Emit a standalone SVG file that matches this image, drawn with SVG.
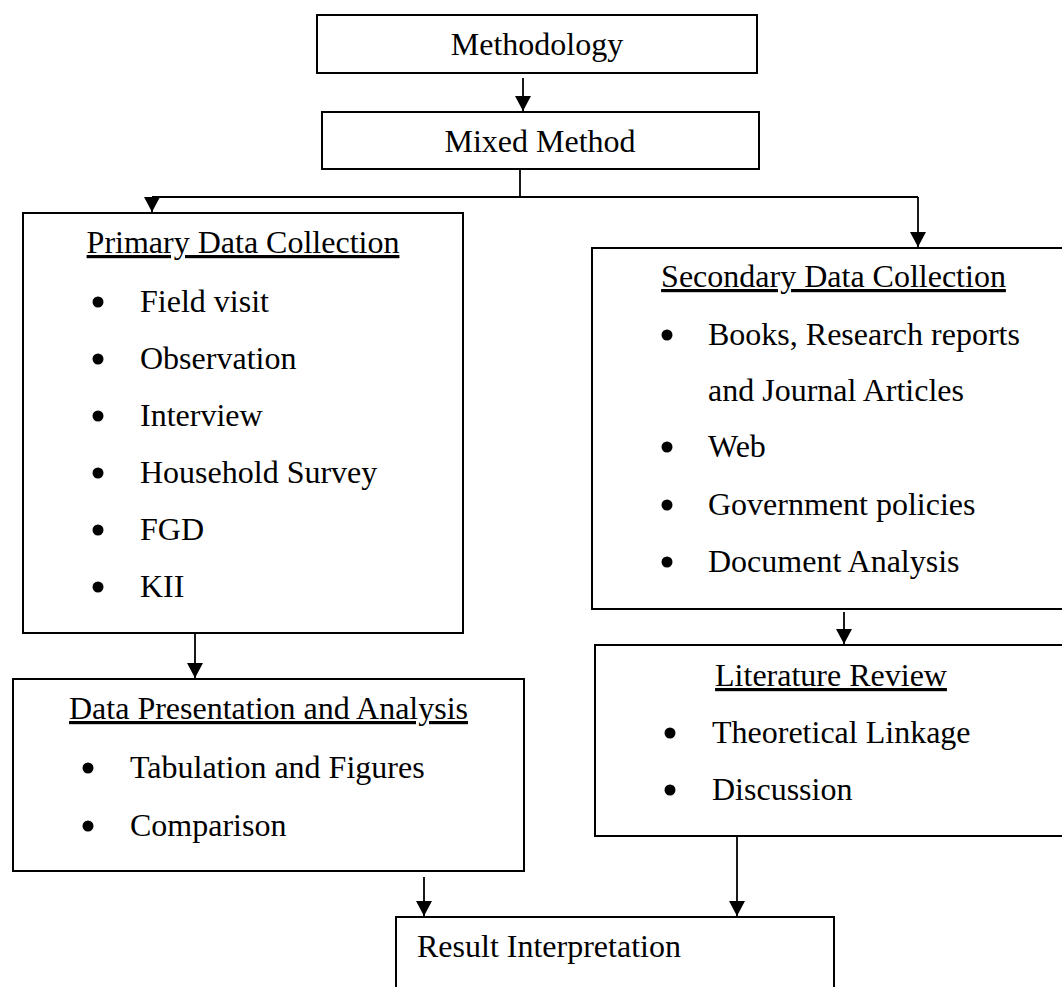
<svg xmlns="http://www.w3.org/2000/svg" width="1062" height="987" viewBox="0 0 1062 987">
<style>
.box{fill:#fff;stroke:#000;stroke-width:2}
.t{font-family:"Liberation Serif","Times New Roman",serif;font-size:32px;fill:#000}
.c{text-anchor:middle}
.u{text-decoration:underline}
.b{fill:#000}
.conn{fill:none;stroke:#000;stroke-width:1.8}
</style>
<defs>
<marker id="arr" markerUnits="userSpaceOnUse" markerWidth="16" markerHeight="16" refX="15" refY="8" orient="auto" viewBox="0 0 16 16">
<path d="M0,0 L15,8 L0,16 Z" fill="#000"/>
</marker>
</defs>
<rect width="1062" height="987" fill="#fff"/>
<g id="methodology">
<rect class="box" x="317" y="15" width="440" height="58"/>
<text class="t c" x="537" y="55">Methodology</text>
</g>
<g id="mixed-method">
<rect class="box" x="322" y="112" width="437" height="57"/>
<text class="t c" x="540" y="152">Mixed Method</text>
</g>
<g id="primary">
<rect class="box" x="23" y="213" width="440" height="420"/>
<text class="t c u" x="243" y="253">Primary Data Collection</text>
<circle class="b" cx="98" cy="302" r="5.5"/><text class="t" x="140" y="312">Field visit</text>
<circle class="b" cx="98" cy="359" r="5.5"/><text class="t" x="140" y="369">Observation</text>
<circle class="b" cx="98" cy="416" r="5.5"/><text class="t" x="140" y="426">Interview</text>
<circle class="b" cx="98" cy="473" r="5.5"/><text class="t" x="140" y="483">Household Survey</text>
<circle class="b" cx="98" cy="530" r="5.5"/><text class="t" x="140" y="540">FGD</text>
<circle class="b" cx="98" cy="587" r="5.5"/><text class="t" x="140" y="597">KII</text>
</g>
<g id="secondary">
<rect class="box" x="592" y="248" width="483" height="361"/>
<text class="t c u" x="833.5" y="287">Secondary Data Collection</text>
<circle class="b" cx="667" cy="335" r="5.5"/><text class="t" x="708" y="345">Books, Research reports</text>
<text class="t" x="708" y="401">and Journal Articles</text>
<circle class="b" cx="667" cy="447" r="5.5"/><text class="t" x="708" y="457">Web</text>
<circle class="b" cx="667" cy="505" r="5.5"/><text class="t" x="708" y="515">Government policies</text>
<circle class="b" cx="667" cy="562" r="5.5"/><text class="t" x="708" y="572">Document Analysis</text>
</g>
<g id="data-presentation">
<rect class="box" x="13" y="679" width="511" height="192"/>
<text class="t c u" x="268.5" y="719">Data Presentation and Analysis</text>
<circle class="b" cx="88" cy="768" r="5.5"/><text class="t" x="130" y="778">Tabulation and Figures</text>
<circle class="b" cx="88" cy="826" r="5.5"/><text class="t" x="130" y="836">Comparison</text>
</g>
<g id="literature-review">
<rect class="box" x="595" y="645" width="472" height="191"/>
<text class="t c u" x="831" y="686">Literature Review</text>
<circle class="b" cx="670" cy="733" r="5.5"/><text class="t" x="712" y="743">Theoretical Linkage</text>
<circle class="b" cx="670" cy="790" r="5.5"/><text class="t" x="712" y="800">Discussion</text>
</g>
<g id="result">
<rect class="box" x="396" y="917" width="438" height="90"/>
<text class="t" x="417" y="957">Result Interpretation</text>
</g>
<g id="connectors">
<line class="conn" x1="523" y1="78" x2="523" y2="111" marker-end="url(#arr)"/>
<path class="conn" d="M520,170 V197 M152,197 H918"/>
<line class="conn" x1="152" y1="197" x2="152" y2="212" marker-end="url(#arr)"/>
<line class="conn" x1="918" y1="197" x2="918" y2="247" marker-end="url(#arr)"/>
<line class="conn" x1="195" y1="634" x2="195" y2="678" marker-end="url(#arr)"/>
<line class="conn" x1="844" y1="612" x2="844" y2="644" marker-end="url(#arr)"/>
<line class="conn" x1="424" y1="877" x2="424" y2="916" marker-end="url(#arr)"/>
<line class="conn" x1="737" y1="836" x2="737" y2="916" marker-end="url(#arr)"/>
</g>
</svg>
